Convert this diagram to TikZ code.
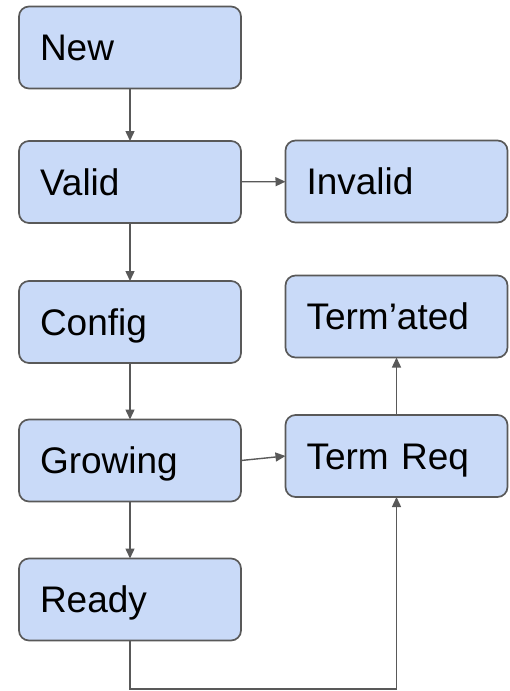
\documentclass[tikz,border=0pt]{standalone}
\usepackage{fontspec}
\setmainfont{Liberation Sans}
\usetikzlibrary{arrows.meta}
\definecolor{boxfill}{HTML}{C9DAF8}
\definecolor{boxline}{HTML}{595959}
\begin{document}
\begin{tikzpicture}[x=1pt,y=-1pt,
  state/.style={draw=boxline, line width=1.7pt, fill=boxfill, rounded corners=10pt,
    minimum width=222pt, minimum height=82pt, inner sep=0pt, outer sep=0pt,
    text width=180pt, align=left, text height=26.5pt, text depth=0pt,
    font=\fontsize{37}{40}\selectfont},
  conn/.style={draw=boxline, line width=1.4pt, -{Triangle[length=10pt,width=9pt]}}]
\useasboundingbox (0,0) rectangle (510,691);
\node[state] (new) at (130,47.5) {New};
\node[state] (valid) at (130,182) {Valid};
\node[state] (invalid) at (396.5,181.5) {Invalid};
\node[state] (config) at (130,322) {Config};
\node[state] (termated) at (396.5,316.5) {Term’ated};
\node[state] (growing) at (130,460.5) {Growing};
\node[state] (termreq) at (396.5,456) {Term Req};
\node[state] (ready) at (130,599.5) {Ready};
\coordinate (c1) at (130,689);
\coordinate (c2) at (396.5,689);
\draw[conn] (new) -- (valid);
\draw[conn] (valid) -- (config);
\draw[conn] (config) -- (growing);
\draw[conn] (growing) -- (ready);
\draw[conn] (valid) -- (invalid);
\draw[conn] (growing.east) -- (termreq.west);
\draw[conn] (termreq) -- (termated);
\draw[conn] (ready.south) -- (c1) -- (c2) -- (termreq.south);
\end{tikzpicture}
\end{document}
